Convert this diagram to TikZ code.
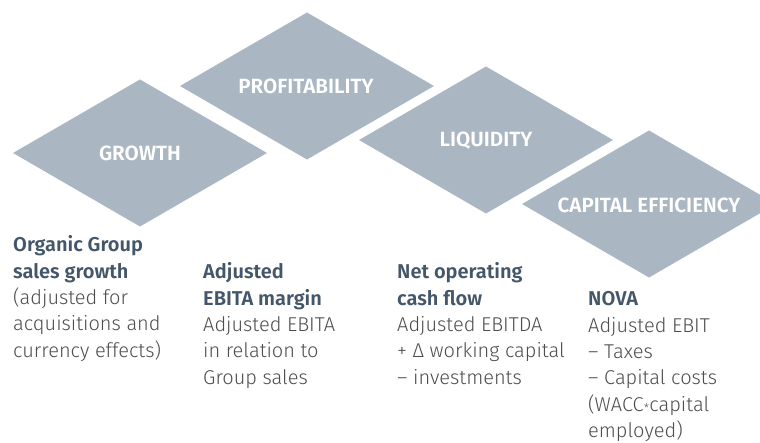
\documentclass[tikz,border=0pt]{standalone}
\usepackage{fontspec}
\usepackage{graphicx}
\setmainfont{Fira Sans}[UprightFont={* Light}, BoldFont={* SemiBold}]
\newfontfamily\semibold{Fira Sans SemiBold}
\definecolor{diafill}{HTML}{AAB7C3}
\definecolor{headcol}{HTML}{44576A}
\definecolor{bodycol}{HTML}{4D4D4D}
\newcommand\colbox[1]{\vtop{\baselineskip=26.3pt\lineskiplimit=-20pt\lineskip=0pt #1}}
\newcommand\hdline[1]{\hbox{\textcolor{headcol}{\bfseries #1}}}
\newcommand\txline[1]{\hbox{#1}}
\newcommand\smallstar{\kern0.3pt\raisebox{-0.08em}{\scalebox{0.6}{*}}\kern0.3pt}
\begin{document}
\begin{tikzpicture}[x=1pt,y=-1pt,
  dia/.style={fill=diafill},
  dialabel/.style={text=white,font=\semibold\fontsize{20.6}{22}\selectfont,inner sep=0pt},
  coltext/.style={anchor=base west,inner sep=0pt,text=bodycol,font=\fontsize{20}{26.3}\selectfont}]
\useasboundingbox (0,0) rectangle (760,443);
\clip (0,0) rectangle (760,443);
\def\hw{127}\def\hh{73.5}
\foreach \cx/\cy in {140/153, 307/86, 486/140, 649/204}{
  \fill[dia] (\cx-\hw,\cy) -- (\cx,\cy-\hh) -- (\cx+\hw,\cy) -- (\cx,\cy+\hh) -- cycle;
}
\node[dialabel] (growth) at (140,153) {GROWTH};
\node[dialabel] (profit) at (306,86) {PROFITABILITY};
\node[dialabel] (liquid) at (486,141) {LIQUIDITY};
\node[dialabel] (capeff) at (649,205) {CAPITAL EFFICIENCY};
\node[coltext] (c1) at (13,252) {\colbox{\hdline{Organic Group}\hdline{sales growth}\txline{(adjusted for}\txline{acquisitions and}\txline{currency effects)}}};
\node[coltext] (c2) at (203,279) {\colbox{\hdline{Adjusted}\hdline{EBITA margin}\txline{Adjusted EBITA}\txline{in relation to}\txline{Group sales}}};
\node[coltext] (c3) at (397,279) {\colbox{\hdline{Net operating}\hdline{cash flow}\txline{Adjusted EBITDA}\txline{+ Δ working capital}\txline{– investments}}};
\node[coltext] (c4) at (588,306) {\colbox{\hdline{NOVA}\txline{Adjusted EBIT}\txline{– Taxes}\txline{– Capital costs}\txline{(WACC\smallstar capital}\txline{employed)}}};
\end{tikzpicture}
\end{document}
